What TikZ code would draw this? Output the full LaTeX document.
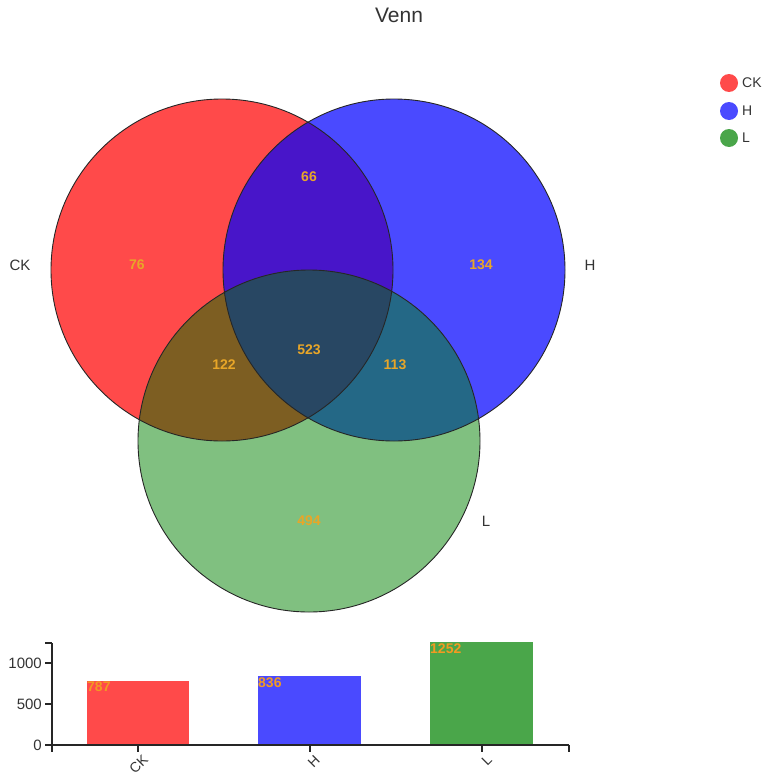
\documentclass[tikz,border=0pt]{standalone}
\usepackage{fontspec}
\setmainfont{Liberation Sans}
\definecolor{redC}{HTML}{FF4A4A}
\definecolor{blueC}{HTML}{4A4AFF}
\definecolor{greenC}{HTML}{80C080}
\definecolor{greenD}{HTML}{4AA64A}
\definecolor{RB}{HTML}{4815C9}
\definecolor{RG}{HTML}{7D5E22}
\definecolor{BG}{HTML}{246886}
\definecolor{RGB}{HTML}{284763}
\definecolor{numC}{HTML}{E8A628}
\definecolor{barNum}{HTML}{F29A22}
\definecolor{labC}{HTML}{333333}
\tikzset{
  setlab/.style={text=labC, font=\fontsize{15}{15}\selectfont},
  num/.style={text=numC, font=\bfseries\fontsize{14}{14}\selectfont},
  outline/.style={draw=black!85, line width=0.9pt},
  axisline/.style={draw=black!85, line width=1.1pt},
  ticklab/.style={text=labC, font=\fontsize{15}{15}\selectfont, anchor=east, inner sep=1pt},
  barlab/.style={text=barNum, font=\bfseries\fontsize{14}{14}\selectfont, anchor=north west, inner sep=1pt},
  catlab/.style={text=labC, font=\fontsize{14}{14}\selectfont, anchor=north east, rotate=45, inner sep=0pt},
  leglab/.style={text=labC, font=\fontsize{14}{14}\selectfont, anchor=west, inner sep=0pt}
}
\begin{document}
\begin{tikzpicture}[x=1pt,y=-1pt]
\useasboundingbox (0,0) rectangle (770,776);
% title
\node[text=labC, font=\fontsize{21}{21}\selectfont] (title) at (399,15) {Venn};
% centers
\coordinate (A) at (222,270);
\coordinate (B) at (394,270);
\coordinate (C) at (309,441);
\def\Rad{171pt}
% base fills
\fill[redC] (A) circle[radius=\Rad];
\fill[blueC] (B) circle[radius=\Rad];
\fill[greenC] (C) circle[radius=\Rad];
\begin{scope}
  \clip (A) circle[radius=\Rad];
  \fill[RB] (B) circle[radius=\Rad];
  \fill[RG] (C) circle[radius=\Rad];
\end{scope}
\begin{scope}
  \clip (B) circle[radius=\Rad];
  \fill[BG] (C) circle[radius=\Rad];
\end{scope}
\begin{scope}
  \clip (A) circle[radius=\Rad];
  \clip (B) circle[radius=\Rad];
  \fill[RGB] (C) circle[radius=\Rad];
\end{scope}
\draw[outline] (A) circle[radius=\Rad];
\draw[outline] (B) circle[radius=\Rad];
\draw[outline] (C) circle[radius=\Rad];
% set labels
\node[setlab] (lCK) at (20,265) {CK};
\node[setlab] (lH) at (590,265) {H};
\node[setlab] (lL) at (486,521) {L};
% region numbers
\node[num] (n76) at (137,265) {76};
\node[num] (n66) at (309,177) {66};
\node[num] (n134) at (481,265) {134};
\node[num] (n523) at (309,350) {523};
\node[num] (n122) at (224,365) {122};
\node[num] (n113) at (395,365) {113};
\node[num] (n494) at (309,521) {494};
% legend
\fill[redC] (729,83) circle[radius=9pt];
\fill[blueC] (729,111) circle[radius=9pt];
\fill[greenD] (729,138) circle[radius=9pt];
\node[leglab] (gCK) at (742,83) {CK};
\node[leglab] (gH) at (742,111) {H};
\node[leglab] (gL) at (742,138) {L};
% bar chart
\fill[redC] (87,745) rectangle (189,680.5);
\fill[blueC] (258,745) rectangle (361,676.4);
\fill[greenD] (430,745) rectangle (533,642.3);
\node[barlab] (b1) at (86,680.5) {787};
\node[barlab] (b2) at (257,676.4) {836};
\node[barlab] (b3) at (429,642.3) {1252};
% axes
\coordinate (yt) at (52,643);
\coordinate (o) at (52,745);
\coordinate (xe) at (569,745);
\draw[axisline] (yt) -- (o) -- (xe);
\foreach \yy in {643,663,704,745} \draw[axisline] (45,\yy) -- (52,\yy);
\foreach \xx in {52,138,310,482,569} \draw[axisline] (\xx,745) -- (\xx,752);
\node[ticklab] (t1000) at (43,663) {1000};
\node[ticklab] (t500) at (43,704) {500};
\node[ticklab] (t0) at (43,745) {0};
\node[catlab] (cCK) at (142,754) {CK};
\node[catlab] (cH) at (314,754) {H};
\node[catlab] (cL) at (486,754) {L};
\end{tikzpicture}
\end{document}
